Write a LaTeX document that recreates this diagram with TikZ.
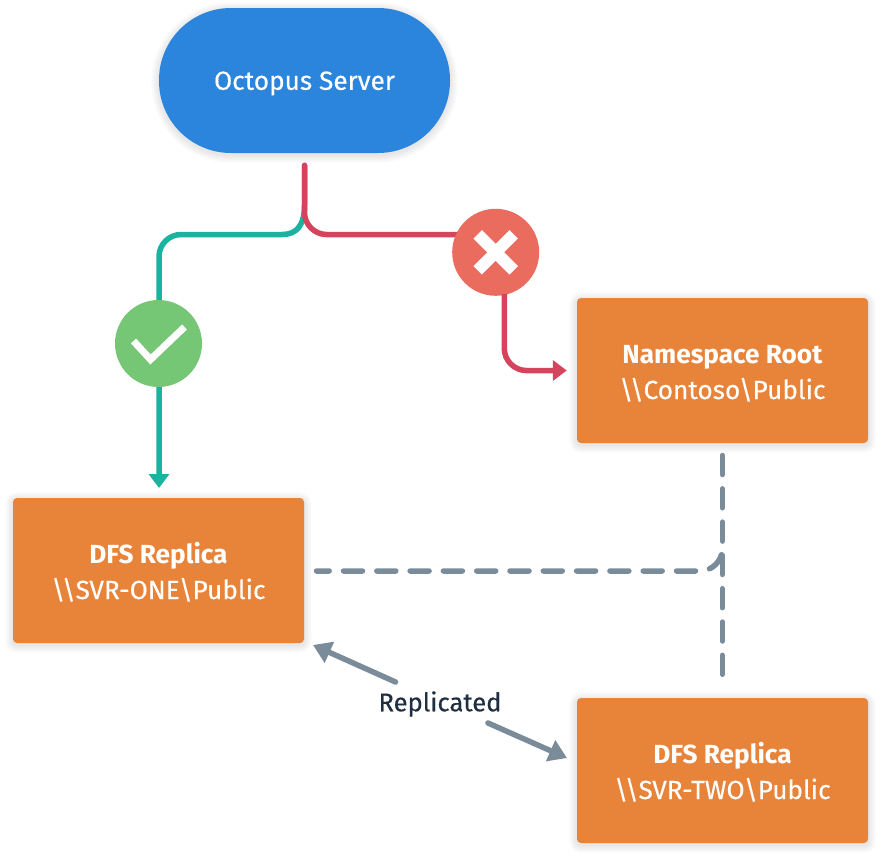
\documentclass[tikz,border=0pt]{standalone}
\usepackage{fontspec}
\setmainfont{Fira Sans}[UprightFeatures={FakeBold=0.35}]
\usetikzlibrary{arrows.meta}
\definecolor{cblue}{HTML}{2B85DC}
\definecolor{corange}{HTML}{E8833A}
\definecolor{cteal}{HTML}{1CB2A0}
\definecolor{cred}{HTML}{D4455D}
\definecolor{ccross}{HTML}{EA6C5F}
\definecolor{cgreen}{HTML}{75C776}
\definecolor{cdark}{HTML}{1F2F40}
\definecolor{cgrey}{HTML}{7A8B9A}
\newcommand{\softshadow}[5]{%
  \foreach \e in {1,2,...,8}{%
    \fill[black,opacity=0.011,rounded corners=#5+\e*1pt]
      (#1-\e,#2-\e+2) rectangle (#3+\e,#4+\e+2);
  }}
\newcommand{\tline}[1]{\raisebox{-3.3pt}[.7\baselineskip][.3\baselineskip]{#1}}
\tikzset{
  boxnode/.style={draw=none,fill=corange,text=white,rounded corners=4pt,minimum width=291pt,minimum height=145pt,inner sep=0pt,align=center,font=\fontsize{26.2}{36}\selectfont},
  pillnode/.style={draw=none,fill=cblue,text=white,rounded corners=72pt,minimum width=291pt,minimum height=145pt,inner sep=0pt,font=\fontsize{26.2}{30}\selectfont},
  badge/.style={circle,draw=none,minimum size=87pt,inner sep=0pt},
  tealline/.style={draw=cteal,line width=5.5pt},
  redline/.style={draw=cred,line width=5.5pt},
  greyline/.style={draw=cgrey,line width=5.5pt},
  dashline/.style={greyline,line cap=round,dash pattern=on 19pt off 14.3pt},
  mark stroke/.style={draw=white,line width=7pt},
  cross stroke/.style={draw=white,line width=12pt},
  labeltext/.style={text=cdark,inner sep=2pt,font=\fontsize{25.6}{30}\selectfont},
}
\begin{document}
\begin{tikzpicture}[x=1pt,y=-1pt]
\useasboundingbox[fill=white] (0,0) rectangle (884,854);
\softshadow{159}{8}{450}{153}{72pt}
\softshadow{577}{298}{868}{443}{4pt}
\softshadow{13}{498}{304}{643}{4pt}
\softshadow{577}{698}{868}{843}{4pt}
\node[pillnode] (server) at (304.5,80.5) {\tline{Octopus Server}};
\node[boxnode] (ns) at (722.5,370.5) {\tline{\textbf{Namespace Root}}\\\tline{\textbackslash\textbackslash Contoso\textbackslash Public}};
\node[boxnode] (one) at (158.5,570.5) {\tline{\textbf{DFS Replica}}\\\tline{\textbackslash\textbackslash SVR-ONE\textbackslash Public}};
\node[boxnode] (two) at (722.5,770.5) {\tline{\textbf{DFS Replica}}\\\tline{\textbackslash\textbackslash SVR-TWO\textbackslash Public}};
\node[labeltext] (rep) at (440,704) {Replicated};
\coordinate (repA) at (395.5,682);
\coordinate (repAtip) at (313,645);
\coordinate (repB) at (488,723);
\coordinate (repBtip) at (567,758);
% teal
\draw[tealline,-{Triangle[length=14pt,width=20pt]},shorten >=10pt,shorten <=12pt]
  (server.south) -- (304.5,205) .. controls (304.5,225) and (297,234.5) .. (282,234.5)
  -- (181,234.5) .. controls (169,234.5) and (159,244.5) .. (159,256.5) -- (159,498);
% red
\draw[redline,line cap=round,shorten <=12pt] (server.south) -- (304.5,212.5)
  .. controls (304.5,224.5) and (314.5,234.5) .. (326.5,234.5) -- (480,234.5);
\node[badge,fill=cgreen] (ok) at (158.5,343.5) {};
\node[badge,fill=ccross] (no) at (495.7,252.3) {};
\draw[mark stroke] (133.5,341) -- (150.5,359.5) -- (184.5,327);
\draw[cross stroke] ([shift={(-18,-18)}]no.center) -- ([shift={(18,18)}]no.center);
\draw[cross stroke] ([shift={(-18,18)}]no.center) -- ([shift={(18,-18)}]no.center);
\draw[redline,-{Triangle[length=14pt,width=20pt]},shorten >=10pt]
  (504.3,294) -- (504.3,348.5) .. controls (504.3,360.5) and (514.3,370.5) .. (526.3,370.5) -- (ns.west);
% dashed
\draw[dashline] (722.3,455.5) -- (722.3,674.5);
\draw[dashline,dash phase=6.3pt] (316.5,571) -- (700,571) .. controls (712,571) and (722.3,561) .. (722.3,549);
% replicated
\draw[greyline,line cap=round,-{Triangle[length=18pt,width=22pt]}] (repA) -- (repAtip);
\draw[greyline,line cap=round,-{Triangle[length=18pt,width=22pt]}] (repB) -- (repBtip);
\end{tikzpicture}
\end{document}
